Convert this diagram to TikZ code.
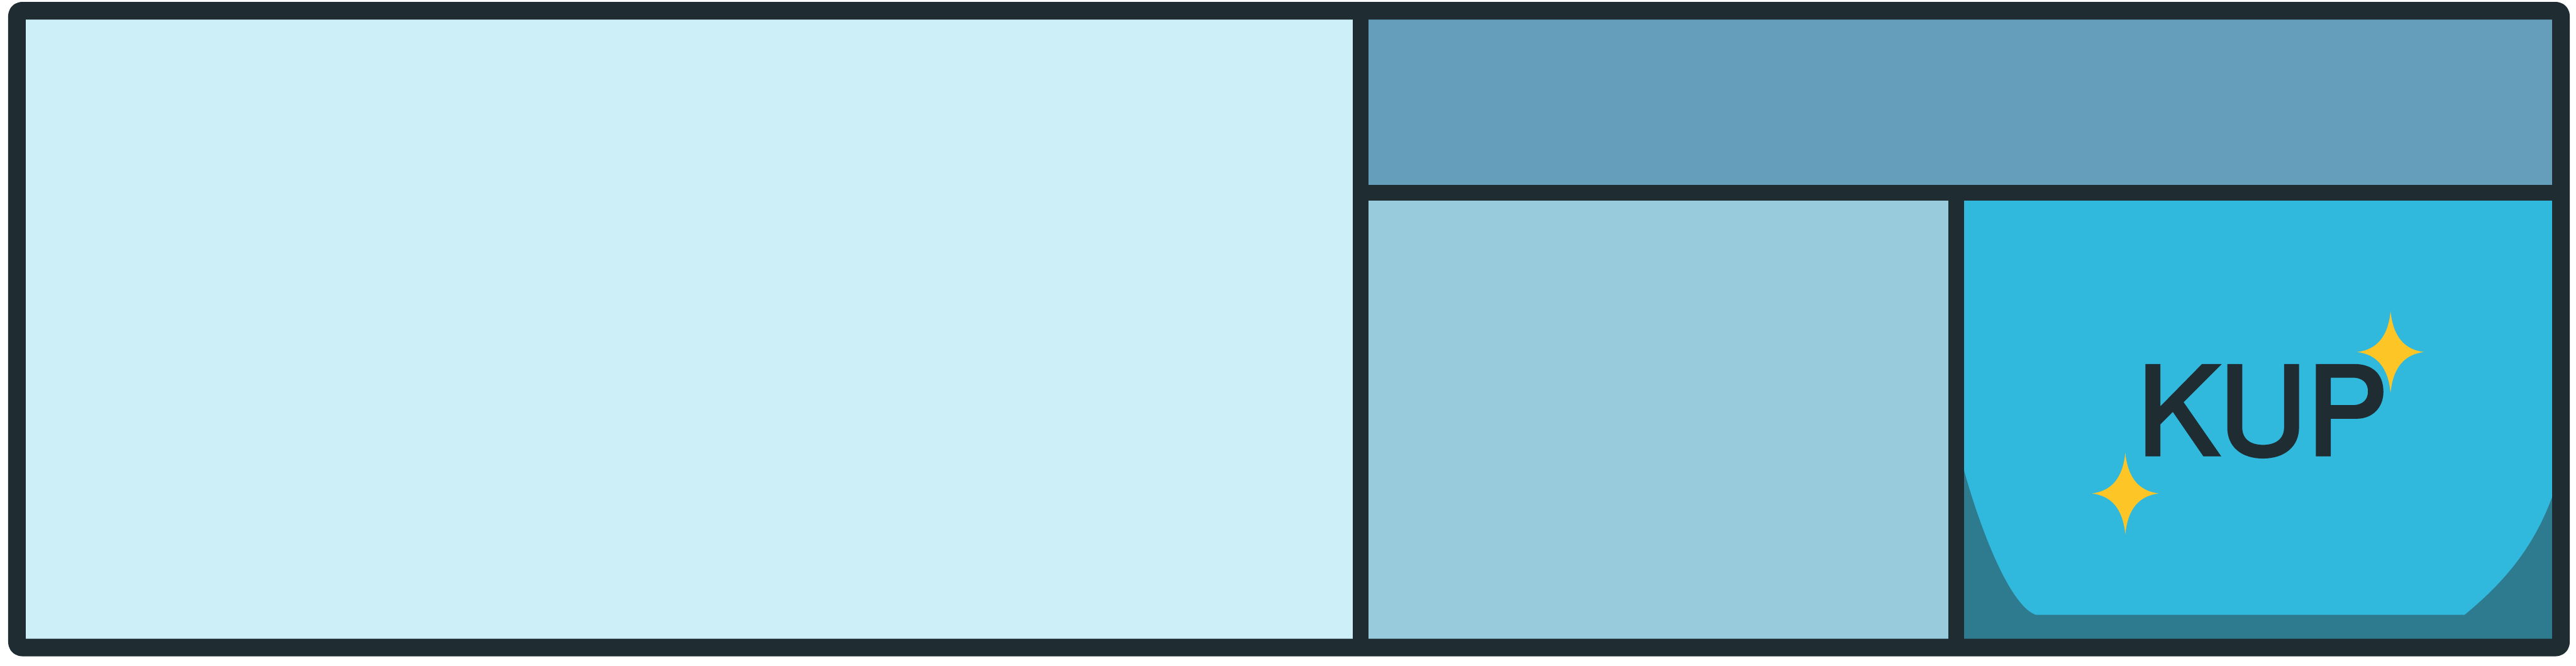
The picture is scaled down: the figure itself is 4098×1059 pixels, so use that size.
\documentclass[tikz,border=0pt]{standalone}
\usepackage{fontspec}
\newfontfamily\kupfont[FakeBold=3]{TeX Gyre Heros}
\usetikzlibrary{positioning}
\definecolor{ink}{HTML}{1F2D32}
\definecolor{paleblue}{HTML}{CCEFF8}
\definecolor{steelblue}{HTML}{649EBA}
\definecolor{midblue}{HTML}{98CBDC}
\definecolor{brightblue}{HTML}{31B8DD}
\definecolor{deepteal}{HTML}{2E7B8F}
\definecolor{sparkyellow}{HTML}{FEC526}
\tikzset{
  frame/.style={draw=ink,line width=0.28cm,line join=round,rounded corners=0.08cm},
  divider/.style={draw=ink,line width=0.25cm,line cap=round},
  pics/sparkle/.style={code={
    \fill[sparkyellow] (0,-65) .. controls (4,-24) and (22,-4) .. (53,0)
      .. controls (22,4) and (4,24) .. (0,65)
      .. controls (-4,24) and (-22,4) .. (-53,0)
      .. controls (-22,-4) and (-4,-24) .. (0,-65) -- cycle;
  }}
}

\begin{document}
\begin{tikzpicture}[x=0.01cm,y=-0.01cm]
    \useasboundingbox (0,0) rectangle (4098,1059);
    \coordinate (NW) at (27,17);
    \coordinate (NE) at (4074,17);
    \coordinate (SE) at (4074,1030);
    \coordinate (SW) at (27,1030);
    \coordinate (Vtop) at (2165,17);
    \coordinate (Vbot) at (2165,1030);
    \coordinate (Hleft) at (2165,307);
    \coordinate (Hright) at (4074,307);
    \coordinate (Wtop) at (3112,307);
    \coordinate (Wbot) at (3112,1030);
    \fill [paleblue] (NW) rectangle (Vbot);
    \fill [steelblue] (Vtop) rectangle (Hright);
    \fill [midblue] (Hleft) rectangle (Wbot);
    \fill [brightblue] (Wtop) rectangle (SE);
    \fill [deepteal] (3112,700) .. controls (3135,800) and (3190,960) .. (3238,978)
        -- (3921,978) .. controls (3985,925) and (4045,860) .. (4074,745)
        -- (SE) -- (Wbot) -- cycle;
    \node [anchor=base west,inner sep=0pt,text=ink,font={\kupfont\fontsize{55}{60}\selectfont}] (kup) at (3400,723) {KUP};
    \pic at (3803,560) {sparkle};
    \pic at (3381,785) {sparkle};
    \draw [divider] (Vtop) -- (Vbot);
    \draw [divider] (Hleft) -- (Hright);
    \draw [divider] (Wtop) -- (Wbot);
    \draw [frame] (NW) -- (NE) -- (SE) -- (SW) -- cycle;
\end{tikzpicture}
\end{document}
